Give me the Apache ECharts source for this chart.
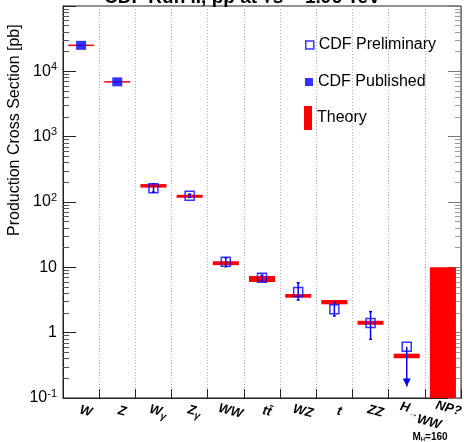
<!DOCTYPE html>
<html>
<head>
<meta charset="utf-8">
<script src="https://cdn.jsdelivr.net/npm/echarts@6/dist/echarts.min.js"></script>
<style>
  html, body { margin: 0; padding: 0; background: #fff; }
  #chart { width: 464px; height: 442px; }
</style>
</head>
<body>
<div id="chart"></div>
<script>
const categories = ['W', 'Z', 'W{sub|γ}', 'Z{sub|γ}', 'WW', 'tt̄', 'WZ', 't', 'ZZ', '{h|H}{arr|→}{low|WW}', '{np|NP?}']
const published = [25000, 6900, null, null, null, null, null, null, null, null, null]
const preliminary = [null, null, 162, 125, 12.2, 6.9, 4.2, 2.28, 1.4, 0.61, null]
const errLow = [null, null, 142, 118, 10.2, 6.3, 3.16, 1.8, 0.79, 0.15, null]
const errHigh = [null, null, 190, 132, 14.0, 7.6, 5.8, 2.9, 2.1, null, null]
const upperLimit = [false, false, false, false, false, false, false, false, false, true, false]
const theoryLow = [25000, 6900, 166, 116, 10.8, 5.96, 3.43, 2.72, 1.32, 0.406, 0.1]
const theoryHigh = [25000, 6900, 188, 129, 12.4, 7.36, 3.9, 3.16, 1.52, 0.478, 10]
const yTickLabels = ['10{sup|-1}', '1', '10', '10{sup|2}', '10{sup|3}', '10{sup|4}', '']

const FONT = 'Liberation Sans, Arial, sans-serif'
const BLUE = '#0000ff'
const RED = '#ff0000'

const chart = echarts.init(document.getElementById('chart'), null, { renderer: 'canvas' })

const theoryData = categories.map((c, i) => [i, theoryLow[i], theoryHigh[i]])
const errData = categories.map((c, i) => [i, errLow[i], errHigh[i] == null ? preliminary[i] : errHigh[i], upperLimit[i] ? 1 : 0])
  .filter(d => d[1] != null)

const logAxis = {
  type: 'log',
  logBase: 10,
  min: 0.1,
  max: 100000,
  splitNumber: 6,
  axisLine: { show: true, lineStyle: { color: '#222', width: 1 } },
  axisTick: { show: true, inside: true, length: 13, lineStyle: { color: '#222' } },
  minorTick: { show: true, splitNumber: 9, length: 6, lineStyle: { color: '#555' } },
  splitLine: { show: false },
  minorSplitLine: { show: false },
}

const legendText = { fontFamily: FONT, fontSize: 16, color: '#000', lineHeight: 16 }

chart.setOption({
  backgroundColor: '#fff',
  animation: false,
  title: {
    text: 'CDF Run II, pp̄ at √s = 1.96 TeV',
    left: 104,
    top: -12,
    padding: 0,
    textStyle: { fontFamily: FONT, fontSize: 19, fontWeight: 'bold', color: '#000', lineHeight: 19 },
  },
  grid: {
    left: 63, right: 3, top: 6, bottom: 44,
    containLabel: false,
    outerBoundsMode: 'none',
    show: true, borderColor: '#222', borderWidth: 1, backgroundColor: 'transparent',
  },
  legend: [
    {
      data: [{ name: 'CDF Preliminary', icon: 'rect', itemStyle: { color: '#fff', borderColor: BLUE, borderWidth: 1.5 } }],
      left: 305, top: 37, padding: 0, itemWidth: 8, itemHeight: 8, selectedMode: false, textStyle: legendText,
    },
    {
      data: [{ name: 'CDF Published', icon: 'rect', itemStyle: { color: BLUE } }],
      left: 305, top: 74, padding: 0, itemWidth: 8, itemHeight: 8, selectedMode: false, textStyle: legendText,
    },
    {
      data: [{ name: 'Theory', icon: 'rect', itemStyle: { color: RED } }],
      left: 304, top: 106, padding: 0, itemWidth: 8, itemHeight: 24, selectedMode: false, textStyle: legendText,
    },
  ],
  xAxis: {
    type: 'category',
    data: categories,
    boundaryGap: true,
    axisLine: { lineStyle: { color: '#222', width: 1 } },
    axisTick: { show: true, inside: true, length: 9, lineStyle: { color: '#222' } },
    splitLine: { show: true, lineStyle: { color: '#aaa', type: [1, 2], width: 1 } },
    axisLabel: {
      interval: 0,
      rotate: -15,
      align: 'center',
      verticalAlign: 'middle',
      margin: 12,
      padding: [0, 0, 0, 10],
      hideOverlap: false,
      fontFamily: FONT,
      fontSize: 13,
      fontStyle: 'italic',
      fontWeight: 'bold',
      color: '#000',
      rich: {
        sub: { fontFamily: FONT, fontSize: 10, fontStyle: 'italic', padding: [8, 0, 0, 0] },
        h: { fontFamily: FONT, fontSize: 13, fontStyle: 'italic', padding: [0, 0, 4, 20] },
        arr: { fontFamily: FONT, fontSize: 10, fontStyle: 'italic', padding: [4, 0, 0, 0] },
        low: { fontFamily: FONT, fontSize: 13, fontStyle: 'italic', fontWeight: 'bold', padding: [12, 0, 0, 0] },
        np: { fontFamily: FONT, fontSize: 13, fontStyle: 'italic', fontWeight: 'bold', padding: [0, 0, 6, 0] },
      },
    },
  },
  yAxis: [
    Object.assign({}, logAxis, {
      axisLabel: {
        margin: 6,
        fontFamily: FONT,
        fontSize: 16,
        color: '#000',
        formatter: v => yTickLabels[Math.round(Math.log10(v)) + 1] || '',
        rich: {
          sup: { fontFamily: FONT, fontSize: 11, color: '#000', padding: [0, 0, 9, 0] },
        },
      },
    }),
    Object.assign({}, logAxis, {
      position: 'right',
      axisLine: { show: true, lineStyle: { color: '#777', width: 1 } },
      axisTick: { show: true, inside: true, length: 13, lineStyle: { color: '#777' } },
      minorTick: { show: true, splitNumber: 9, length: 6, lineStyle: { color: '#999' } },
      axisLabel: { show: false },
    }),
  ],
  graphic: [
    {
      type: 'text',
      x: 15,
      y: 236,
      rotation: Math.PI / 2,
      style: {
        text: 'Production Cross Section [pb]',
        font: '16px ' + FONT,
        fill: '#000',
        align: 'left',
        verticalAlign: 'middle',
      },
    },
    {
      type: 'text',
      x: 430,
      y: 437,
      style: {
        text: '{b|M}{s|H}{b|=160}',
        align: 'center',
        verticalAlign: 'middle',
        rich: {
          b: { font: 'bold 10px ' + FONT, fill: '#000' },
          s: { font: 'bold 6px ' + FONT, fill: '#000', padding: [4, 0, 0, 0] },
        },
      },
    },
  ],
  series: [
    {
      name: 'Theory',
      type: 'custom',
      z: 2,
      itemStyle: { color: RED },
      data: theoryData,
      renderItem: (params, api) => {
        const top = api.coord([api.value(0), api.value(2)])
        const bot = api.coord([api.value(0), api.value(1)])
        const w = api.size([1, 1])[0] * 0.72
        let h = bot[1] - top[1]
        let y = top[1]
        if (h < 1.5) { y -= (1.5 - h) / 2; h = 1.5 }
        return { type: 'rect', shape: { x: top[0] - w / 2, y, width: w, height: h }, style: { fill: RED } }
      },
    },
    {
      name: 'errors',
      type: 'custom',
      z: 3,
      data: errData,
      renderItem: (params, api) => {
        const lo = api.coord([api.value(0), api.value(1)])
        const hi = api.coord([api.value(0), api.value(2)])
        const style = { stroke: BLUE, lineWidth: 1.5, fill: null }
        const children = [{ type: 'line', shape: { x1: lo[0], y1: lo[1], x2: hi[0], y2: hi[1] }, style }]
        if (api.value(3) === 1) {
          children.push({ type: 'polygon', shape: { points: [[lo[0] - 4, lo[1] - 8], [lo[0] + 4, lo[1] - 8], [lo[0], lo[1]]] }, style: { fill: BLUE } })
        } else {
          children.push({ type: 'line', shape: { x1: lo[0] - 1.5, y1: lo[1], x2: lo[0] + 1.5, y2: lo[1] }, style })
          children.push({ type: 'line', shape: { x1: hi[0] - 1.5, y1: hi[1], x2: hi[0] + 1.5, y2: hi[1] }, style })
        }
        return { type: 'group', children }
      },
    },
    {
      name: 'CDF Preliminary',
      type: 'scatter',
      z: 4,
      symbol: 'rect',
      symbolSize: 9,
      itemStyle: { color: 'rgba(0,0,0,0)', borderColor: BLUE, borderWidth: 1.5 },
      data: preliminary,
    },
    {
      name: 'CDF Published',
      type: 'scatter',
      z: 4,
      symbol: 'rect',
      symbolSize: [10, 9],
      itemStyle: { color: BLUE },
      data: published,
    },
  ],
})
</script>
</body>
</html>
